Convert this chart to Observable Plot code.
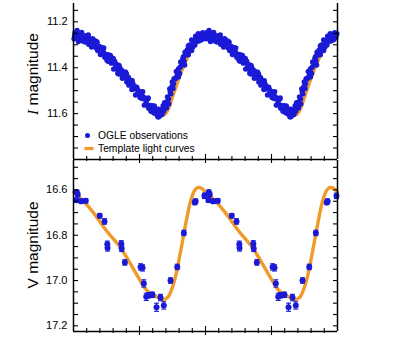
<!DOCTYPE html>
<html><head><meta charset="utf-8">
<script src="https://cdn.jsdelivr.net/npm/d3@7"></script>
<script src="https://cdn.jsdelivr.net/npm/@observablehq/plot@0.6"></script>
<style>
body{margin:0;background:#fff;font-family:"Liberation Sans",Arial,sans-serif}
#wrap{position:relative;width:398px;height:340px;overflow:hidden}
#topPanel{position:absolute;left:0;top:0}
#botPanel{position:absolute;left:0;top:159px}
</style></head><body><div id="wrap"><div id="topPanel"></div><div id="botPanel"></div></div>
<script>
// ---- OGLE I-band observations (one cycle; drawn at phase and phase+1)
const iPhase = [0.004,0.012,0.020,0.029,0.037,0.045,0.054,0.062,0.070,0.079,0.087,0.095,0.104,0.112,0.120,0.129,0.137,0.145,0.154,0.162,
0.170,0.179,0.187,0.195,0.204,0.212,0.220,0.229,0.237,0.245,0.254,0.262,0.270,0.279,0.287,0.295,0.304,0.312,0.320,0.329,
0.337,0.345,0.354,0.362,0.370,0.379,0.387,0.395,0.404,0.412,0.420,0.429,0.437,0.445,0.454,0.462,0.470,0.479,0.487,0.495,
0.504,0.512,0.520,0.529,0.537,0.545,0.554,0.562,0.570,0.579,0.587,0.595,0.604,0.612,0.620,0.629,0.637,0.645,0.654,0.662,
0.670,0.679,0.687,0.695,0.704,0.712,0.720,0.729,0.737,0.745,0.754,0.762,0.770,0.779,0.787,0.795,0.804,0.812,0.820,0.829,
0.837,0.845,0.854,0.862,0.870,0.879,0.887,0.895,0.904,0.912,0.920,0.929,0.937,0.945,0.954,0.962,0.970,0.979,0.987,0.995,
0.008,0.041,0.066,0.100,0.133,0.158,0.183,0.216,0.250,0.283,0.316,0.350,0.383,0.416,0.450,0.483,0.516,0.550,0.583,0.608,
0.633,0.658,0.683,0.708,0.733,0.758,0.783,0.808,0.833,0.858,0.883,0.908,0.933,0.958,0.983,0.925,0.350,0.225,0.600,0.650,
0.027,0.115,0.172,0.262,0.301,0.336,0.402,0.442,0.524,0.566,0.615,0.642,0.690,0.722,0.748,0.795,0.842,0.870,0.895,0.950];
const iMag = [11.274,11.246,11.268,11.256,11.286,11.252,11.274,11.246,11.283,11.266,11.288,11.260,11.275,11.257,11.289,11.276,11.310,11.273,11.299,11.287,
11.313,11.289,11.316,11.307,11.342,11.312,11.339,11.314,11.354,11.341,11.367,11.343,11.361,11.346,11.380,11.369,11.406,11.371,11.398,11.387,
11.414,11.390,11.418,11.410,11.446,11.417,11.444,11.420,11.462,11.450,11.476,11.454,11.473,11.457,11.493,11.482,11.519,11.485,11.513,11.502,
11.530,11.506,11.534,11.527,11.563,11.534,11.561,11.536,11.577,11.564,11.590,11.566,11.584,11.567,11.600,11.587,11.610,11.581,11.602,11.584,
11.604,11.566,11.580,11.558,11.575,11.527,11.536,11.492,11.514,11.483,11.490,11.448,11.449,11.416,11.433,11.405,11.425,11.375,11.387,11.359,
11.371,11.332,11.345,11.323,11.343,11.301,11.316,11.279,11.310,11.286,11.301,11.268,11.277,11.252,11.276,11.257,11.278,11.247,11.269,11.252,
11.259,11.270,11.258,11.281,11.292,11.281,11.325,11.322,11.352,11.375,11.382,11.428,11.433,11.442,11.470,11.495,11.520,11.548,11.579,11.596,
11.601,11.592,11.590,11.548,11.505,11.470,11.440,11.398,11.352,11.330,11.312,11.290,11.285,11.270,11.258,11.262,11.400,11.330,11.575,11.612,
11.238,11.298,11.285,11.372,11.360,11.425,11.428,11.495,11.505,11.532,11.572,11.615,11.552,11.558,11.462,11.440,11.388,11.305,11.325,11.284];
// ---- I-band template light curve (one cycle)
const iTplPhase = [0.00,0.05,0.10,0.15,0.20,0.25,0.30,0.35,0.40,0.45,0.50,0.55,0.60,0.65,0.69,0.72,0.75,0.78,0.81,0.85,0.89,0.93,0.97,1.00];
const iTplMag   = [11.260,11.265,11.275,11.290,11.315,11.345,11.375,11.410,11.445,11.480,11.515,11.550,11.580,11.598,11.605,11.580,11.530,11.480,11.430,11.375,11.325,11.290,11.265,11.260];
// ---- V-band observations with errors (one cycle)
const vPhase = [0.022,0.025,0.032,0.058,0.093,0.199,0.235,0.256,0.258,0.362,0.365,0.389,0.508,0.523,0.533,0.551,0.568,0.598,0.629,0.659,0.684,0.735,0.786,0.836,0.919,0.925,0.992];
const vMag   = [16.645,16.610,16.620,16.650,16.648,16.714,16.739,16.840,16.856,16.838,16.858,16.920,16.940,16.944,17.013,17.072,17.065,17.063,17.118,17.075,17.110,17.000,16.940,16.790,16.655,16.650,16.626];
const vErr   = [0.010,0.010,0.010,0.010,0.010,0.010,0.012,0.014,0.014,0.014,0.014,0.012,0.014,0.014,0.016,0.016,0.012,0.012,0.018,0.014,0.016,0.012,0.012,0.012,0.010,0.010,0.012];
// ---- V-band template light curve (one cycle)
const vTplPhase = [0.00,0.05,0.10,0.15,0.20,0.25,0.30,0.35,0.40,0.45,0.50,0.55,0.60,0.65,0.68,0.70,0.72,0.74,0.76,0.78,0.80,0.82,0.84,0.86,0.88,0.90,0.92,0.94,0.97,1.00];
const vTplMag   = [16.610,16.635,16.665,16.700,16.740,16.780,16.815,16.850,16.895,16.945,16.995,17.040,17.063,17.077,17.085,17.080,17.070,17.045,17.010,16.965,16.905,16.845,16.780,16.720,16.665,16.625,16.600,16.590,16.593,16.610];
// ---- ticks
const xMajorTicks = [0.5, 1.0, 1.5];
const xMinorTicks = [0.1,0.2,0.3,0.4,0.6,0.7,0.8,0.9,1.1,1.2,1.3,1.4,1.6,1.7,1.8,1.9];
const iLabelTicks = [11.2, 11.4, 11.6];
const iMinorTicks = [11.15,11.2,11.25,11.3,11.35,11.4,11.45,11.5,11.55,11.6,11.65,11.7,11.75];
const vLabelTicks = [16.6, 16.8, 17, 17.2];
const vMinorTicks = [16.5,16.55,16.6,16.65,16.7,16.75,16.8,16.85,16.9,16.95,17,17.05,17.1,17.15,17.2];
const xDomain = [0, 2];
const iDomain = [11.12, 11.8];
const vDomain = [16.47, 17.225];
const legendLabels = ["OGLE observations", "Template light curves"];

const BLUE = "#1a1ad6", ORANGE = "#f09a2a";
const FONT = "'Liberation Sans', Arial, sans-serif";

const twoCycles = (ph, mg, extra) => ph.flatMap((p, k) => [0, 1].map(c => ({phase: p + c, mag: mg[k], err: extra ? extra[k] : 0})));
const tplRows = (ph, mg) => [0, 1].flatMap(c => ph.map((p, k) => ({phase: p + c, mag: mg[k]})));

const iRows = twoCycles(iPhase, iMag);
const iTpl = tplRows(iTplPhase, iTplMag);
const vRows = twoCycles(vPhase, vMag, vErr);
const vTpl = tplRows(vTplPhase, vTplMag);

const dashSymbol = {draw(ctx) { ctx.moveTo(-4.5,-1.6); ctx.lineTo(4.5,-1.6); ctx.lineTo(4.5,1.6); ctx.lineTo(-4.5,1.6); ctx.closePath(); }};
const capSymbol = {draw(ctx) { ctx.moveTo(-2.5,0); ctx.lineTo(2.5,0); }};
const blank = () => "";

function frameMarks(minorY, labelY, bottomValue) {
  return [
    Plot.ruleX(xDomain, {stroke: "#000", strokeWidth: 1.5}),
    Plot.ruleY([bottomValue], {stroke: "#000", strokeWidth: 1.5}),
    Plot.axisY(minorY, {anchor: "left", tickSize: 5, dx: 5, tickFormat: blank, label: null, strokeWidth: 1.1}),
    Plot.axisY(minorY, {anchor: "right", tickSize: 5, dx: -5, tickFormat: blank, label: null, strokeWidth: 1.1}),
    Plot.axisY(labelY, {anchor: "left", tickSize: 0, tickPadding: 6, fontSize: 11, label: null}),
    Plot.axisX(xMinorTicks, {anchor: "bottom", tickSize: 5, dy: -3, tickFormat: blank, label: null, strokeWidth: 1.1}),
    Plot.axisX(xMajorTicks, {anchor: "bottom", tickSize: 9, dy: -5, tickFormat: blank, label: null, strokeWidth: 1.1})
  ];
}

const topChart = Plot.plot({
  width: 398, height: 160, marginLeft: 73, marginRight: 61, marginTop: 3, marginBottom: 1,
  style: {background: "transparent", overflow: "visible", fontFamily: FONT, color: "#000"},
  x: {domain: xDomain, axis: null},
  y: {domain: iDomain, reverse: true, axis: null},
  marks: [
    Plot.line(iTpl, {x: "phase", y: "mag", stroke: ORANGE, strokeWidth: 3, curve: "catmull-rom"}),
    Plot.dot(iRows, {x: "phase", y: "mag", r: 2.7, fill: BLUE}),
    ...frameMarks(iMinorTicks, iLabelTicks, iDomain[1]),
    Plot.dot([legendLabels[0]], {frameAnchor: "bottom-left", dx: 14, dy: -24, r: 2.5, fill: BLUE}),
    Plot.dot([legendLabels[1]], {frameAnchor: "bottom-left", dx: 15.5, dy: -11, symbol: dashSymbol, fill: ORANGE, stroke: "none"}),
    Plot.text([legendLabels[0]], {frameAnchor: "bottom-left", dx: 24.5, dy: -24, text: d => d, fontSize: 10.3, textAnchor: "start", lineAnchor: "middle"}),
    Plot.text([legendLabels[1]], {frameAnchor: "bottom-left", dx: 24.5, dy: -11, text: d => d, fontSize: 10.3, textAnchor: "start", lineAnchor: "middle"}),
    Plot.text(["I magnitude"], {frameAnchor: "left", dx: -40, dy: -7.5, rotate: -90, text: d => d, fontSize: 15.5, textAnchor: "middle", lineAnchor: "middle"})
  ]
});

const botChart = Plot.plot({
  width: 398, height: 181, marginLeft: 73, marginRight: 61, marginTop: 1, marginBottom: 9,
  style: {background: "transparent", overflow: "visible", fontFamily: FONT, color: "#000"},
  x: {domain: xDomain, axis: null},
  y: {domain: vDomain, reverse: true, axis: null},
  marks: [
    Plot.line(vTpl, {x: "phase", y: "mag", stroke: ORANGE, strokeWidth: 3.4, curve: "catmull-rom"}),
    Plot.ruleX(vRows, {x: "phase", y1: d => d.mag - d.err, y2: d => d.mag + d.err, stroke: BLUE, strokeWidth: 1.2}),
    Plot.dot(vRows, {x: "phase", y: d => d.mag - d.err, symbol: capSymbol, stroke: BLUE, strokeWidth: 1.1, fill: "none"}),
    Plot.dot(vRows, {x: "phase", y: d => d.mag + d.err, symbol: capSymbol, stroke: BLUE, strokeWidth: 1.1, fill: "none"}),
    Plot.dot(vRows, {x: "phase", y: "mag", r: 3, fill: BLUE}),
    ...frameMarks(vMinorTicks, vLabelTicks, vDomain[1]),
    Plot.text(["V magnitude"], {frameAnchor: "left", dx: -40, dy: -1, rotate: -90, text: d => d, fontSize: 15.5, textAnchor: "middle", lineAnchor: "middle"})
  ]
});

document.getElementById("topPanel").appendChild(topChart);
document.getElementById("botPanel").appendChild(botChart);

// italic I in the axis title
d3.select(topChart).selectAll("text").each(function() {
  if (this.textContent === "I magnitude") {
    this.textContent = "";
    d3.select(this).append("tspan").attr("font-family", "'Liberation Serif', serif").attr("font-style", "italic").text("I");
    d3.select(this).append("tspan").text(" magnitude");
  }
});
</script>
</body></html>
